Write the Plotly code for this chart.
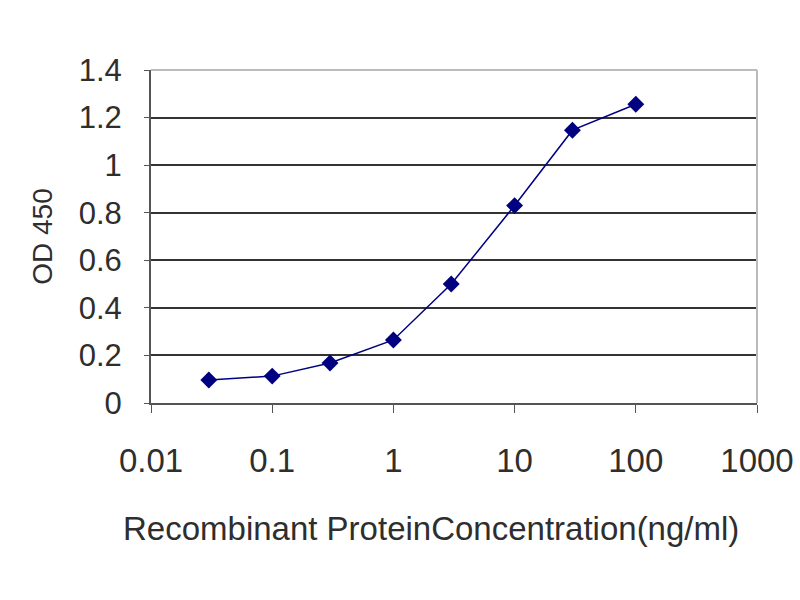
import plotly.graph_objects as go

conc = [0.03, 0.1, 0.3, 1, 3, 10, 30, 100]
od = [0.097, 0.113, 0.168, 0.265, 0.50, 0.83, 1.147, 1.256]
x_ticks = [0.01, 0.1, 1, 10, 100, 1000]
x_tick_text = ["0.01", "0.1", "1", "10", "100", "1000"]
y_ticks = [0, 0.2, 0.4, 0.6, 0.8, 1, 1.2, 1.4]
y_tick_text = ["0", "0.2", "0.4", "0.6", "0.8", "1", "1.2", "1.4"]
x_title = "Recombinant ProteinConcentration(ng/ml)"
y_title = "OD 450"

fig = go.Figure()
fig.add_trace(go.Scatter(
    x=conc, y=od, mode="lines+markers",
    line=dict(color="#000080", width=1.5),
    marker=dict(symbol="diamond", size=13, color="#000080"),
    showlegend=False,
))

fam = "Liberation Sans, Arial, sans-serif"
txt = "#2e2e2e"

L, R, T, B = 151, 757, 70, 403

fig.update_layout(
    width=800, height=600,
    margin=dict(l=L, r=800 - R, t=T, b=600 - B),
    paper_bgcolor="white", plot_bgcolor="white",
    font=dict(family=fam, size=30, color=txt),
    xaxis=dict(
        type="log", range=[-2, 3], automargin=False,
        tickvals=x_ticks, ticktext=x_tick_text,
        tickfont=dict(size=33, color=txt),
        showgrid=False, zeroline=False,
        showline=True, linecolor="#555555", linewidth=2,
        ticks="outside", ticklen=8, tickcolor="#555555",
        ticklabelstandoff=19,
    ),
    yaxis=dict(
        range=[0, 1.4], automargin=False,
        tickvals=y_ticks, ticktext=y_tick_text,
        tickfont=dict(size=31, color=txt),
        showgrid=True, gridcolor="#333333", gridwidth=2,
        zeroline=False,
        showline=True, linecolor="#555555", linewidth=2,
        ticks="outside", ticklen=5, tickcolor="#555555",
        ticklabelstandoff=16,
        title=dict(text=y_title, standoff=18, font=dict(size=28, color=txt)),
    ),
)

fig.add_annotation(
    text=x_title, xref="paper", yref="paper",
    x=(431 - L) / (R - L), y=(B - 528) / (B - T),
    xanchor="center", yanchor="middle", showarrow=False,
    font=dict(size=33, color=txt, family=fam),
)

# light border top and right of plot area
fig.add_shape(type="line", xref="paper", yref="paper", x0=0, x1=1, y0=1, y1=1,
              line=dict(color="#bbbbbb", width=2))
fig.add_shape(type="line", xref="paper", yref="paper", x0=1, x1=1, y0=0, y1=1,
              line=dict(color="#bbbbbb", width=2))

fig.write_html("out.html", config={"displayModeBar": False},
               post_script="document.body.style.margin='0';")
